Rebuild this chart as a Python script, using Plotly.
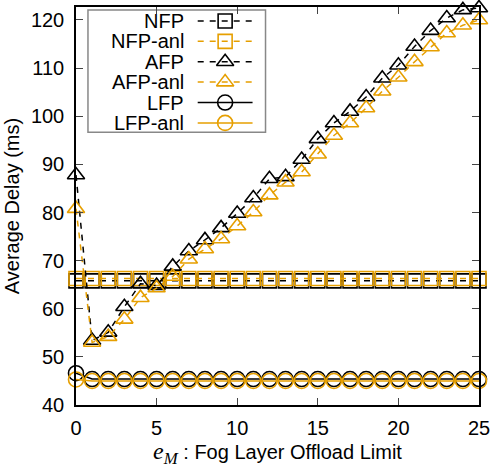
import plotly.graph_objects as go

# ---- data ----
e_m = list(range(0, 26))
nfp = [65.8] * 26
nfp_anl = [66.3] * 26
afp = [87.8, 53.4, 55.1, 60.4, 65.2, 64.8, 68.8, 72.0, 74.3, 76.8, 79.8, 83.0, 87.0,
       87.4, 91.0, 95.3, 98.6, 101.0, 104.0, 107.9, 110.6, 114.5, 117.8, 120.4, 122.1, 122.5]
afp_anl = [80.8, 53.0, 54.2, 57.8, 62.3, 64.3, 66.7, 70.3, 72.4, 74.5, 77.2, 80.1, 83.6,
           86.3, 88.4, 92.1, 96.0, 98.6, 101.7, 105.2, 108.1, 111.3, 114.4, 117.3, 118.9, 120.0]
lfp = [46.6] + [45.4] * 25
lfp_anl = [45.3] + [45.0] * 25

x_ticks = [0, 5, 10, 15, 20, 25]
y_ticks = [40, 50, 60, 70, 80, 90, 100, 110, 120]

names = ["NFP", "NFP-anl", "AFP", "AFP-anl", "LFP", "LFP-anl"]
series = [nfp, nfp_anl, afp, afp_anl, lfp, lfp_anl]
colors = ["black", "#E69F00", "black", "#E69F00", "black", "#E69F00"]
symbols = ["square-open", "square-open", "triangle-up-open", "triangle-up-open",
           "circle-open", "circle-open"]
dashes = ["6px,6px", "6px,6px", "6px,6px", "6px,6px", "solid", "solid"]
sizes = [14, 14, 15, 15, 15, 15]

FONT = "Liberation Sans, Arial, sans-serif"

fig = go.Figure()
for nm, ys, c, s, d, sz in zip(names, series, colors, symbols, dashes, sizes):
    fig.add_trace(go.Scatter(
        x=e_m, y=ys, name=nm, mode="lines+markers", cliponaxis=False,
        line=dict(color=c, width=1.5, dash=d),
        marker=dict(symbol=s, size=sz, color=c, line=dict(color=c, width=1.6)),
        showlegend=False))

# ---- manual gnuplot-style legend (text left, sample right), pixel coords on overlay axes ----
leg_rows = [19, 39.5, 60, 80.5, 101, 121.5]
for nm, c, s, d, sz, yy in zip(names, colors, symbols, dashes, sizes, leg_rows):
    fig.add_trace(go.Scatter(
        x=[198, 253], y=[yy, yy], mode="lines", xaxis="x2", yaxis="y2",
        line=dict(color=c, width=1.5, dash=d), showlegend=False, hoverinfo="skip"))
    fig.add_trace(go.Scatter(
        x=[225.5], y=[yy], mode="markers", xaxis="x2", yaxis="y2", cliponaxis=False,
        marker=dict(symbol=s, size=sz, color=c, line=dict(color=c, width=1.6)),
        showlegend=False, hoverinfo="skip"))
    fig.add_annotation(x=186, y=yy, xref="x2", yref="y2", text=nm, showarrow=False,
                       xanchor="right", yanchor="middle",
                       font=dict(family=FONT, size=20, color="black"))

fig.add_shape(type="rect", xref="x2", yref="y2", x0=88, x1=266, y0=8, y1=131,
              line=dict(color="#888888", width=1.5), fillcolor="white", layer="below")

fig.update_layout(
    width=495, height=468,
    margin=dict(l=76, r=15, t=5, b=63),
    paper_bgcolor="white", plot_bgcolor="white",
    font=dict(family=FONT, size=20, color="black"),
    xaxis=dict(range=[0, 25], tickvals=x_ticks, ticks="inside", ticklen=7,
               tickcolor="#444", showline=True, linecolor="black", linewidth=1.5,
               mirror="allticks", showgrid=False, zeroline=False,
               tickfont=dict(size=20), ticklabelstandoff=4,
               title=dict(text="<span style='font-family:Liberation Serif,DejaVu Serif,serif;font-size:24px'><i>e</i><sub><i>M</i></sub></span> : Fog Layer Offload Limit",
                          font=dict(size=20), standoff=6)),
    yaxis=dict(range=[40, 122.7], tickvals=y_ticks,
               ticks="inside", ticklen=7, tickcolor="#444", showline=True, linecolor="black",
               linewidth=1.5, mirror="allticks", showgrid=False, zeroline=False,
               tickfont=dict(size=20), ticklabelstandoff=6,
               title=dict(text="Average Delay (ms)", font=dict(size=20), standoff=6)),
    xaxis2=dict(overlaying="x", range=[76, 480], visible=False, fixedrange=True),
    yaxis2=dict(overlaying="y", range=[405, 5], visible=False, fixedrange=True),
)

fig.write_html("out.html", config={"displayModeBar": False},
               post_script="document.body.style.margin='0px';")
